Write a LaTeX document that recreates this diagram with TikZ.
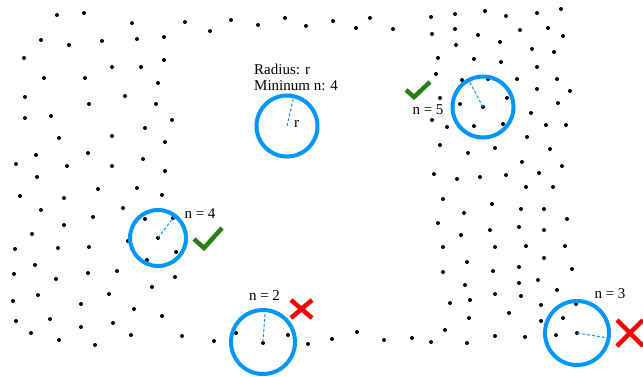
\documentclass[tikz,border=0pt]{standalone}
\usepackage{fontspec}
\setmainfont{Liberation Serif}
\usepackage{tikz}
\definecolor{scblue}{RGB}{0,150,250}
\definecolor{scgreen}{RGB}{40,128,20}
\definecolor{scred}{RGB}{250,0,0}

\begin{document}
\begin{tikzpicture}[x=1pt,y=-1pt,font=\fontsize{15}{18}\selectfont,
    datapt/.style={circle,fill=black,inner sep=0pt,minimum size=4pt},
    probe/.style={circle,draw=scblue,line width=4pt,inner sep=0pt,outer sep=0pt},
    radline/.style={scblue,line width=1pt,dash pattern=on 3pt off 2pt},
    okmark/.style={scgreen,line width=4.5pt},
    badmark/.style={scred,line width=4.5pt},
    every node/.append style={inner sep=0pt}]
  \useasboundingbox (0,0) rectangle (643,376);
  % the points
  \foreach \x/\y [count=\i] in {57/15,84/13,132/23,185/22,210/31,41/40,69/45,102/41,137/39,164/37,
      24/58,112/67,141/67,164/60,44/78,85/78,158/83,25/97,89/104,125/96,156/104,
      25/118,51/116,172/120,145/128,59/138,112/136,165/142,36/155,88/153,16/164,67/166,
      112/166,143/159,165/171,37/177,98/189,137/188,
      20/196,64/198,162/195,41/210,93/217,123/208,64/225,32/234,15/249,58/248,89/247,
      128/241,145/219,173/218,158/238,176/252,147/260,35/265,14/274,56/279,88/273,117/271,
      175/277,38/295,13/301,109/294,152/287,81/304,134/309,16/321,50/319,81/327,113/323,
      162/316,31/333,59/340,95/345,131/335,182/336,214/341,
      231/20,258/25,285/18,306/26,333/21,356/28,370/18,393/29,
      236/333,288/335,263/343,308/344,332/339,357/332,384/340,412/338,
      431/17,455/14,485/11,506/16,537/13,561/9,432/34,455/29,478/35,520/30,548/28,563/36,
      456/45,500/42,532/49,554/52,438/58,474/59,501/62,537/67,436/74,462/80,488/79,517/79,
      557/79,570/91,537/89,440/98,460/104,483/107,507/98,558/103,432/120,447/127,474/126,
      503/124,531/113,546/125,566/125,440/145,468/153,495/148,527/137,550/149,522/162,
      562/166,434/174,457/179,480/177,506/175,539/173,526/187,553/187,
      443/199,492/204,464/213,521/209,544/209,567/219,438/223,461/235,490/230,519/227,
      544/230,443/247,495/247,526/246,565/246,467/262,544/258,443/272,493/271,519/267,
      572/269,465/285,519/283,538/280,557/290,450/303,470/300,495/294,521/296,541/305,
      576/304,469/318,509/313,541/321,563/318,445/330,431/342,467/343,495/336,525/337,
      556/335,577/333}
    \node[datapt] (d\i) at (\x,\y) {};

  % the legend circle
  \node[anchor=base west] (radius) at (254,74) {Radius: r};
  \node[anchor=base west] (minn) at (254,90) {Mininum n: 4};
  \node[probe,minimum size=61pt] (cref) at (287,126) {};
  \draw[radline] (cref.center) -- (cref.77);
  \node[anchor=base west] (rlab) at (294,127) {r};

  % the tested circles
  \node[probe,minimum size=61pt] (c5) at (483,107) {};
  \node[probe,minimum size=56pt] (c4) at (158,238) {};
  \node[probe,minimum size=64pt] (c2) at (263,342) {};
  \node[probe,minimum size=64pt] (c3) at (577,333) {};
  \draw[radline] (c5.center) -- (c5.118);
  \draw[radline] (c4.center) -- (c4.53);
  \draw[radline] (c2.center) -- (c2.86);
  \draw[radline] (c3.center) -- (c3.-9);
  \node[anchor=base] (n5) at (428,114) {n = 5};
  \node[anchor=base] (n4) at (200,218) {n = 4};
  \node[anchor=base] (n2) at (264.5,300) {n = 2};
  \node[anchor=base] (n3) at (610,298) {n = 3};

  % marks
  \draw[okmark] (406,90) -- (414,97) -- (430,82);
  \draw[okmark] (194,239) -- (204,248) -- (222,228);
  \draw[badmark] (291,300) -- (312,318) (291,318) -- (312,300);
  \draw[badmark] (617,320) -- (643,346) (617,346) -- (643,320);
\end{tikzpicture}
\end{document}
